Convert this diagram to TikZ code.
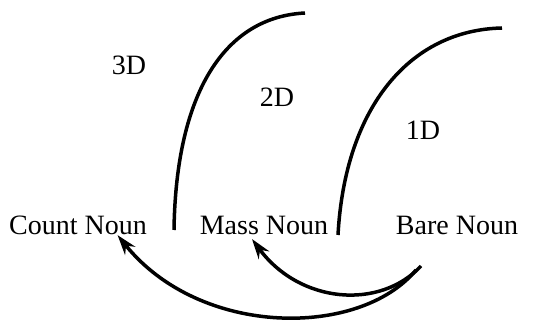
\documentclass[tikz,border=0pt]{standalone}
\usepackage{fontspec}
\setmainfont{Liberation Serif}
\usetikzlibrary{arrows.meta}

\begin{document}
\begin{tikzpicture}[x=1pt,y=1pt,line width=3.5pt,
  noun/.style={font=\fontsize{28}{30}\selectfont, inner sep=1pt},
  dimlabel/.style={font=\fontsize{28}{30}\selectfont, inner sep=1pt},
  shiftarrow/.style={-{Stealth[length=20pt,width=13pt]}}]
\useasboundingbox (0,0) rectangle (542,322);
\node[noun] (count) at (78,97) {Count Noun};
\node[noun] (mass) at (264,97) {Mass Noun};
\node[noun] (bare) at (457,97) {Bare Noun};
\node[dimlabel] (3d) at (129,257) {3D};
\node[dimlabel] (2d) at (277,225) {2D};
\node[dimlabel] (1d) at (423,192) {1D};
\coordinate (b1) at (416,52);
\coordinate (b2) at (421,56);
% boundaries between the regions
\draw (174,92) .. controls (176,230) and (225,305) .. (305,309);
\draw (338,87) .. controls (345,215) and (410,292) .. (502,294);
% shifts from bare noun
\draw[shiftarrow] (b1) .. controls (360,-16) and (200,-16) .. ([xshift=-32pt,yshift=2pt]count.south east);
\draw[shiftarrow] (b2) .. controls (380,12) and (300,18) .. ([xshift=-12pt,yshift=-2pt]mass.south);
\end{tikzpicture}
\end{document}
